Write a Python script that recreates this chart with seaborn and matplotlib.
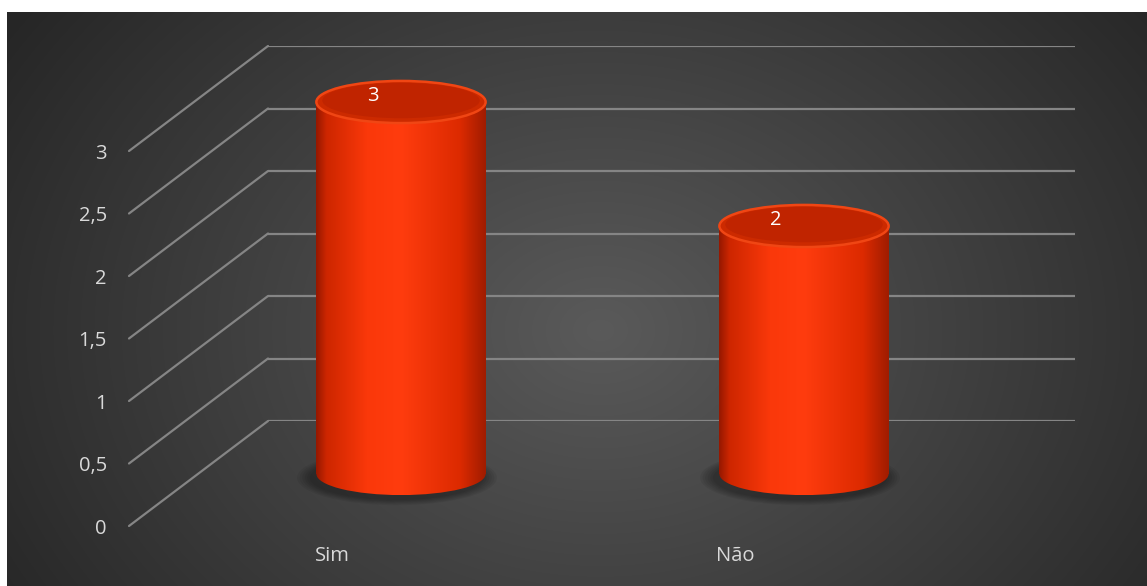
import numpy as np
import matplotlib
matplotlib.use("Agg")
import matplotlib.pyplot as plt
import seaborn as sns
from matplotlib.patches import Ellipse, Rectangle
from matplotlib.lines import Line2D

# Data
categories = ["Sim", "Não"]
values = [3, 2]
yticks = [0, 0.5, 1, 1.5, 2, 2.5, 3]
ytick_labels = ["0", "0,5", "1", "1,5", "2", "2,5", "3"]

sns.set_theme(style="white")
plt.rcParams["font.family"] = ["Open Sans", "DejaVu Sans"]

W, H = 1147, 586
fig = plt.figure(figsize=(W / 100, H / 100), dpi=100)
fig.patch.set_facecolor("white")


def px_axes(x0, y0, x1, y1):
    # pixel box, origin top-left
    return fig.add_axes([x0 / W, 1 - y1 / H, (x1 - x0) / W, (y1 - y0) / H])


# dark radial background
ax_bg = px_axes(7, 12, W, H)
yy, xx = np.mgrid[12:H, 7:W]
r = np.sqrt(((xx - 600) / (0.62 * W)) ** 2 + ((yy - 330) / (0.95 * H)) ** 2)
shade = np.clip(0x5a - (0x5a - 0x26) * r, 0x26, 0x5a) / 255
ax_bg.imshow(np.dstack([shade] * 3), aspect="auto", extent=[0, 1, 0, 1])
ax_bg.axis("off")

# back wall with gridlines
ax_wall = px_axes(268, 46, 1075, 421)
ax_wall.set_ylim(0, 3)
ax_wall.set_xlim(0, 1)
ax_wall.hlines(yticks, 0, 1, color="#858585", lw=1.6)
ax_wall.axis("off")
ax_wall.patch.set_alpha(0)

# front edge carrying tick labels
ax_front = px_axes(129, 151, 130, 526)
ax_front.set_ylim(0, 3)
ax_front.set_xlim(0, 1)
ax_front.set_yticks(yticks)
ax_front.set_yticklabels(ytick_labels, color="#d9d9d9", fontsize=14.5)
ax_front.tick_params(axis="y", length=0, pad=16)
ax_front.set_xticks([])
for s in ax_front.spines.values():
    s.set_visible(False)
ax_front.patch.set_alpha(0)

# floor diagonals
inv = fig.transFigure.inverted()
for v in yticks:
    p0 = inv.transform(ax_front.transData.transform((0, v)))
    p1 = inv.transform(ax_wall.transData.transform((0, v)))
    fig.add_artist(Line2D([p0[0], p1[0]], [p0[1], p1[1]], color="#858585", lw=1.6))

# cylinders: value 0 at y=474px, value 3 at y=102px, padded by 0.5 on both ends
ppu = (474 - 102) / 3
ax_bar = px_axes(199.5, 102 - 0.5 * ppu, 1005.5, 474 + 0.5 * ppu)
ax_bar.patch.set_alpha(0)
sns.barplot(x=categories, y=values, ax=ax_bar, width=0.42, color="#ff3a0a")
ax_bar.set_xlim(-0.5, 1.5)
ax_bar.set_ylim(-0.5, 3.5)

t = np.linspace(0, 1, 200)
stops = [0, 0.06, 0.3, 0.5, 0.85, 1]
rc = np.interp(t, stops, [150, 205, 250, 255, 220, 160])
gc = np.interp(t, stops, [24, 38, 56, 60, 42, 28])
bc = np.interp(t, stops, [0, 0, 10, 14, 0, 0])
grad = np.dstack([rc, gc, bc])[0][None, :, :] / 255

ry = 0.17
for bar, val, cat in zip(list(ax_bar.patches), values, categories):
    x, w, h = bar.get_x(), bar.get_width(), bar.get_height()
    cx = x + w / 2
    bar.set_visible(False)
    # shadow
    for k in range(6):
        ax_bar.add_patch(Ellipse((cx - 0.01, -0.03), w * (1.18 - 0.03 * k),
                                 2 * ry * (1.3 - 0.05 * k),
                                 fc="black", ec="none", alpha=0.06, zorder=1))
    # body
    for clip in (Rectangle((x, 0), w, h, transform=ax_bar.transData),
                 Ellipse((cx, 0), w, 2 * ry, transform=ax_bar.transData)):
        im = ax_bar.imshow(grad, aspect="auto", extent=[x, x + w, -ry, h], zorder=2)
        im.set_clip_path(clip)
    # top
    ax_bar.add_patch(Ellipse((cx, h), w, 2 * ry, fc="#cc2a00", ec="#f04614", lw=1.8, zorder=3))
    ax_bar.add_patch(Ellipse((cx, h + 0.012), w * 0.93, 2 * ry * 0.84, fc="#c02400",
                             ec="none", zorder=3))
    ax_bar.text(cx - 0.07, h + 0.05, f"{val}", color="white", fontsize=14.5,
                ha="center", va="center", zorder=4)
    ax_bar.text(cx - 0.17, -0.66, cat, color="#d9d9d9",
                fontsize=14.5, ha="center", va="center", clip_on=False)

ax_bar.set_xlim(-0.5, 1.5)
ax_bar.set_ylim(-0.5, 3.5)
ax_bar.axis("off")

fig.savefig("out.png", dpi=100)
